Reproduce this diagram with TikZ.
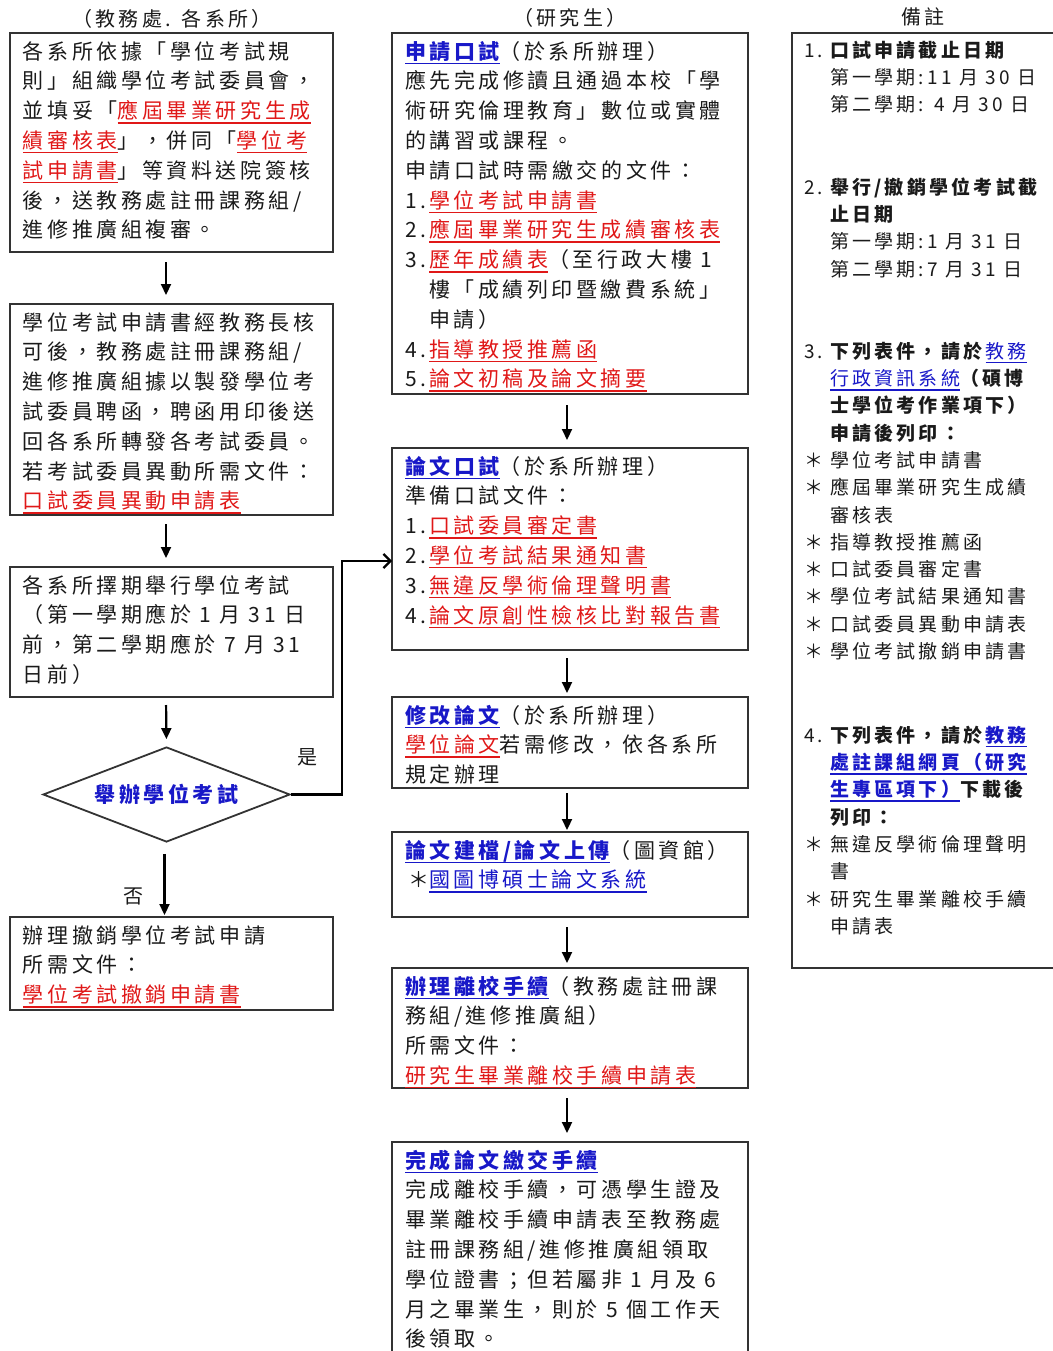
\documentclass[tikz,border=0pt]{standalone}
\usepackage{fontspec}
\setmainfont{Noto Sans CJK TC}[LetterSpace=17]
\usetikzlibrary{arrows.meta,shapes.geometric}
\definecolor{myred}{HTML}{E01818}
\definecolor{myblue}{HTML}{1818C8}
\definecolor{boxline}{HTML}{333333}
\definecolor{txt}{HTML}{1A1A1A}
\newsavebox\ulbox
\newcommand\myul[1]{\sbox\ulbox{#1}\rlap{\rule[-5pt]{\wd\ulbox}{1.5pt}}\usebox\ulbox}
\newcommand\rl[1]{{\color{myred}\myul{#1}}}
\newcommand\bl[1]{{\color{myblue}\myul{#1}}}
\newcommand\bb[1]{{\color{myblue}\bfseries\myul{#1}}}
\newcommand\fst{\rule{0pt}{19pt}}
\newcommand\fss{\rule{0pt}{17.2pt}}
\newcommand\nm[1]{\makebox[24pt][l]{#1}}
\newcommand\nr[1]{\makebox[26pt][l]{#1}}
\tikzset{
  box/.style={draw=boxline, line width=1.8pt, anchor=north west, inner sep=0pt, outer sep=0pt},
  tx/.style={anchor=north west, inner sep=0pt, outer sep=0pt, align=left, text=txt, font=\fontsize{21}{29.8}\selectfont},
  txs/.style={anchor=north west, inner sep=0pt, outer sep=0pt, align=left, text=txt, font=\fontsize{19}{27.3}\selectfont},
  hd/.style={inner sep=0pt, text=txt, font=\fontsize{20}{24}\selectfont},
  arr/.style={line width=2.2pt, -{Triangle[length=11pt,width=10pt]}},
  yarr/.style={line width=2.2pt, -{Straight Barb[length=7pt,width=14pt]}},
}
\begin{document}
\begin{tikzpicture}[x=1pt, y={(0pt,-1pt)}]
\useasboundingbox (0,0) rectangle (1052,1351);
% headers
\node[hd] (h1) at (172,19) {（教務處. 各系所）};
\node[hd] (h2) at (570,18) {（研究生）};
\node[hd] (h3) at (923,17) {備註};
% left column boxes
\node[box, minimum width=323pt, minimum height=219pt] (l1) at (10,33) {};
\node[box, minimum width=323pt, minimum height=211pt] (l2) at (10,304) {};
\node[box, minimum width=323pt, minimum height=130pt] (l3) at (10,567) {};
\node[box, minimum width=323pt, minimum height=93pt] (l4) at (10,917) {};
\node[diamond, draw=boxline, line width=1.8pt, minimum width=247pt, minimum height=95pt, inner sep=0pt, aspect=2.6, text=myblue, font=\fontsize{21}{24}\selectfont\bfseries] (dia) at (166.5,794.5) {舉辦學位考試};
% middle column boxes
\node[box, minimum width=356pt, minimum height=361pt] (m1) at (392,33) {};
\node[box, minimum width=356pt, minimum height=202pt] (m2) at (392,448) {};
\node[box, minimum width=356pt, minimum height=91pt] (m3) at (392,697) {};
\node[box, minimum width=356pt, minimum height=85pt] (m4) at (392,832) {};
\node[box, minimum width=356pt, minimum height=120pt] (m5) at (392,968) {};
\node[box, minimum width=356pt, minimum height=240pt] (m6) at (392,1142) {};
% right column box
\node[box, minimum width=300pt, minimum height=935pt] (r1) at (792,33) {};

% left texts
\node[tx] (l1t) at (23,40) {\fst 各系所依據「學位考試規\\
則」組織學位考試委員會，\\
並填妥「\rl{應屆畢業研究生成}\\
\rl{績審核表}」，併同「\rl{學位考}\\
\rl{試申請書}」等資料送院簽核\\
後，送教務處註冊課務組/\\
進修推廣組複審。};
\node[tx] (l2t) at (23,311) {\fst 學位考試申請書經教務長核\\
可後，教務處註冊課務組/\\
進修推廣組據以製發學位考\\
試委員聘函，聘函用印後送\\
回各系所轉發各考試委員。\\
若考試委員異動所需文件：\\
\rl{口試委員異動申請表}};
\node[tx] (l3t) at (23,574) {\fst 各系所擇期舉行學位考試\\
（第一學期應於 1 月 31 日\\
前，第二學期應於 7 月 31\\
日前）};
\node[tx] (l4t) at (23,924) {\fst 辦理撤銷學位考試申請\\
所需文件：\\
\rl{學位考試撤銷申請書}};

% middle texts
\node[tx] (m1t) at (405,40) {\fst\bb{申請口試}（於系所辦理）\\
應先完成修讀且通過本校「學\\
術研究倫理教育」數位或實體\\
的講習或課程。\\
申請口試時需繳交的文件：\\
\nm{1.}\rl{學位考試申請書}\\
\nm{2.}\rl{應屆畢業研究生成績審核表}\\
\nm{3.}\rl{歷年成績表}（至行政大樓 1\\
\hspace*{24pt}樓「成績列印暨繳費系統」\\
\hspace*{24pt}申請）\\
\nm{4.}\rl{指導教授推薦函}\\
\nm{5.}\rl{論文初稿及論文摘要}};
\node[tx] (m2t) at (405,455) {\fst\bb{論文口試}（於系所辦理）\\
準備口試文件：\\
\nm{1.}\rl{口試委員審定書}\\
\nm{2.}\rl{學位考試結果通知書}\\
\nm{3.}\rl{無違反學術倫理聲明書}\\
\nm{4.}\rl{論文原創性檢核比對報告書}};
\node[tx] (m3t) at (405,704) {\fst\bb{修改論文}（於系所辦理）\\
\rl{學位論文}若需修改，依各系所\\
規定辦理};
\node[tx] (m4t) at (405,839) {\fst\bb{論文建檔/論文上傳}（圖資館）\\
\nm{\hspace{3pt}＊}\bl{國圖博碩士論文系統}};
\node[tx] (m5t) at (405,975) {\fst\bb{辦理離校手續}（教務處註冊課\\
務組/進修推廣組）\\
所需文件：\\
\rl{研究生畢業離校手續申請表}};
\node[tx] (m6t) at (405,1149) {\fst\bb{完成論文繳交手續}\\
完成離校手續，可憑學生證及\\
畢業離校手續申請表至教務處\\
註冊課務組/進修推廣組領取\\
學位證書；但若屬非 1 月及 6\\
月之畢業生，則於 5 個工作天\\
後領取。};

% right texts
\node[txs] (r1a) at (804,40) {\fss\nr{1.}\textbf{口試申請截止日期}\\
\hspace*{26pt}第一學期:11 月 30 日\\
\hspace*{26pt}第二學期: 4 月 30 日};
\node[txs] (r1b) at (804,177) {\fss\nr{2.}\textbf{舉行/撤銷學位考試截}\\
\hspace*{26pt}\textbf{止日期}\\
\hspace*{26pt}第一學期:1 月 31 日\\
\hspace*{26pt}第二學期:7 月 31 日};
\node[txs] (r1c) at (804,341) {\fss\nr{3.}\textbf{下列表件，請於}\bl{教務}\\
\hspace*{26pt}\bl{行政資訊系統}\textbf{（碩博}\\
\hspace*{26pt}\textbf{士學位考作業項下）}\\
\hspace*{26pt}\textbf{申請後列印：}\\
\nr{＊}學位考試申請書\\
\nr{＊}應屆畢業研究生成績\\
\hspace*{26pt}審核表\\
\nr{＊}指導教授推薦函\\
\nr{＊}口試委員審定書\\
\nr{＊}學位考試結果通知書\\
\nr{＊}口試委員異動申請表\\
\nr{＊}學位考試撤銷申請書};
\node[txs] (r1d) at (804,725) {\fss\nr{4.}\textbf{下列表件，請於}\bb{教務}\\
\hspace*{26pt}\bb{處註課組網頁（研究}\\
\hspace*{26pt}\bb{生專區項下）}\textbf{下載後}\\
\hspace*{26pt}\textbf{列印：}\\
\nr{＊}無違反學術倫理聲明\\
\hspace*{26pt}書\\
\nr{＊}研究生畢業離校手續\\
\hspace*{26pt}申請表};

% labels
\node[hd] (yes) at (307,757) {是};
\node[hd] (no) at (133,896) {否};

% connectors
\draw[arr, shorten <=10pt, shorten >=9pt] ([xshift=-5.5pt]l1.south) -- ([xshift=-5.5pt]l2.north);
\draw[arr, shorten <=9pt, shorten >=9pt] ([xshift=-5.5pt]l2.south) -- ([xshift=-5.5pt]l3.north);
\draw[arr, shorten <=8pt, shorten >=7pt] ([xshift=-5.5pt]l3.south) -- (dia.north);
\draw[arr, shorten <=11pt, shorten >=2pt] ([xshift=-2pt]dia.south) -- ([xshift=-2pt]dia.south |- l4.north);
\coordinate (yturn) at (342,561);
\draw[yarr, line join=miter] (dia.east) -| (yturn) -- (yturn -| m2.west);
\draw[arr, shorten <=11pt, shorten >=8pt] ([xshift=-3pt]m1.south) -- ([xshift=-3pt]m2.north);
\draw[arr, shorten <=8pt, shorten >=4pt] ([xshift=-3pt]m2.south) -- ([xshift=-3pt]m3.north);
\draw[arr, shorten <=5pt, shorten >=2pt] ([xshift=-3pt]m3.south) -- ([xshift=-3pt]m4.north);
\draw[arr, shorten <=10pt, shorten >=5pt] ([xshift=-3pt]m4.south) -- ([xshift=-3pt]m5.north);
\draw[arr, shorten <=10pt, shorten >=9pt] ([xshift=-3pt]m5.south) -- ([xshift=-3pt]m6.north);
\end{tikzpicture}
\end{document}
